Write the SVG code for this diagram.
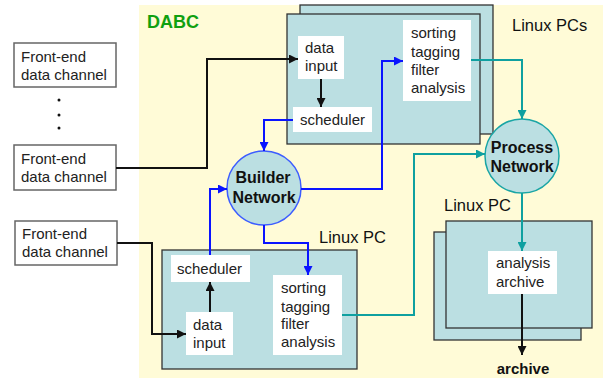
<svg xmlns="http://www.w3.org/2000/svg" width="603" height="380" viewBox="0 0 603 380">
<defs>
<style>
text{font-family:"Liberation Sans",Arial,sans-serif;fill:#222}
.t{font-size:15px}
.b{font-size:16px;font-weight:bold;fill:#111}
.lbl{font-size:16.5px;fill:#111}
.fe{fill:#fff;stroke:#666;stroke-width:1.5}
.pc{fill:#bbdfe2;stroke:#333;stroke-width:1.3}
.wb{fill:#fff}
.net{fill:#bbdfe2;stroke-width:1.5}
.k{fill:none;stroke:#111;stroke-width:2}
.bl{fill:none;stroke:#0a14ff;stroke-width:2}
.tl{fill:none;stroke:#0fa0a0;stroke-width:2}
</style>
<marker id="ak" viewBox="0 0 10 10" refX="10" refY="5" markerWidth="9" markerHeight="9" markerUnits="userSpaceOnUse" orient="auto"><path d="M0,0L10,5L0,10z" fill="#111"/></marker>
<marker id="ab" viewBox="0 0 10 10" refX="10" refY="5" markerWidth="9" markerHeight="9" markerUnits="userSpaceOnUse" orient="auto"><path d="M0,0L10,5L0,10z" fill="#0a14ff"/></marker>
<marker id="at" viewBox="0 0 10 10" refX="10" refY="5" markerWidth="9" markerHeight="9" markerUnits="userSpaceOnUse" orient="auto"><path d="M0,0L10,5L0,10z" fill="#0fa0a0"/></marker>
</defs>
<rect x="0" y="0" width="603" height="380" fill="#fff"/>
<rect x="139" y="5" width="464" height="373" fill="#fffbd7"/>
<text x="147" y="28" style="font-size:18px;font-weight:bold;fill:#10a010">DABC</text>

<g id="fe1"><rect class="fe" x="14" y="43" width="102" height="44"/><text class="t" x="21" y="62">Front-end</text><text class="t" x="21" y="80">data channel</text></g>
<g id="dots"><circle cx="59" cy="100" r="1.5" fill="#111"/><circle cx="59" cy="115" r="1.5" fill="#111"/><circle cx="59" cy="128" r="1.5" fill="#111"/></g>
<g id="fe2"><rect class="fe" x="14" y="145" width="102" height="45"/><text class="t" x="21" y="164">Front-end</text><text class="t" x="21" y="182">data channel</text></g>
<g id="fe3"><rect class="fe" x="15" y="221" width="102" height="44"/><text class="t" x="22" y="239">Front-end</text><text class="t" x="22" y="257">data channel</text></g>

<g id="pcs-top">
<rect class="pc" x="300" y="5" width="193" height="129"/>
<rect class="pc" x="287" y="14" width="193" height="130"/>
<text class="lbl" x="512" y="31">Linux PCs</text>
</g>
<g id="top-input"><rect class="wb" x="298" y="36" width="46" height="43"/><text class="t" x="305" y="53">data</text><text class="t" x="305" y="71">input</text></g>
<g id="top-sched"><rect class="wb" x="293" y="107" width="79" height="25"/><text class="t" x="300" y="125">scheduler</text></g>
<g id="top-sort"><rect class="wb" x="403" y="20" width="68" height="81"/><text class="t" x="411" y="38">sorting</text><text class="t" x="411" y="57">tagging</text><text class="t" x="411" y="75">filter</text><text class="t" x="411" y="93">analysis</text></g>

<g id="pc-low">
<rect class="pc" x="162" y="250" width="195" height="119"/>
<text class="lbl" x="319" y="243">Linux PC</text>
</g>
<g id="low-sched"><rect class="wb" x="171" y="255" width="79" height="27"/><text class="t" x="177" y="274">scheduler</text></g>
<g id="low-input"><rect class="wb" x="186" y="312" width="47" height="43"/><text class="t" x="193" y="330">data</text><text class="t" x="193" y="348">input</text></g>
<g id="low-sort"><rect class="wb" x="273" y="275" width="69" height="80"/><text class="t" x="281" y="293">sorting</text><text class="t" x="281" y="312">tagging</text><text class="t" x="281" y="329">filter</text><text class="t" x="281" y="347">analysis</text></g>

<g id="pc-arch">
<rect class="pc" x="434" y="232" width="147" height="108"/>
<rect class="pc" x="446" y="221" width="146" height="107"/>
<text class="lbl" x="444" y="211">Linux PC</text>
</g>
<g id="analysis"><rect class="wb" x="488" y="251" width="69" height="43"/><text class="t" x="496" y="268">analysis</text><text class="t" x="496" y="287">archive</text></g>

<g id="builder"><circle class="net" cx="264" cy="188" r="37" stroke="#3c5cff"/><text class="b" x="263" y="183" text-anchor="middle">Builder</text><text class="b" x="264" y="203" text-anchor="middle">Network</text></g>
<g id="process"><circle class="net" cx="522" cy="156" r="37" stroke="#1aa5a5"/><text class="b" x="522" y="153" text-anchor="middle">Process</text><text class="b" x="522" y="172" text-anchor="middle">Network</text></g>

<g id="archive-label"><text x="523" y="374" text-anchor="middle" style="font-size:15px;font-weight:bold;fill:#111">archive</text></g>

<g id="connectors">
<path class="k" d="M116,168H207V59H298" marker-end="url(#ak)"/>
<path class="k" d="M117,243H152V334H186" marker-end="url(#ak)"/>
<path class="k" d="M321,79V107" marker-end="url(#ak)"/>
<path class="k" d="M210,312V282" marker-end="url(#ak)"/>
<path class="k" d="M522,294V355" marker-end="url(#ak)"/>
<path class="bl" d="M293,120H264V151" marker-end="url(#ab)"/>
<path class="bl" d="M301,189H382V61H403" marker-end="url(#ab)"/>
<path class="bl" d="M264,225V243H308V275" marker-end="url(#ab)"/>
<path class="bl" d="M210,255V189H227" marker-end="url(#ab)"/>
<path class="tl" d="M471,60H522V119" marker-end="url(#at)"/>
<path class="tl" d="M342,315H414V154H485" marker-end="url(#at)"/>
<path class="tl" d="M522,193V251" marker-end="url(#at)"/>
</g>
</svg>
